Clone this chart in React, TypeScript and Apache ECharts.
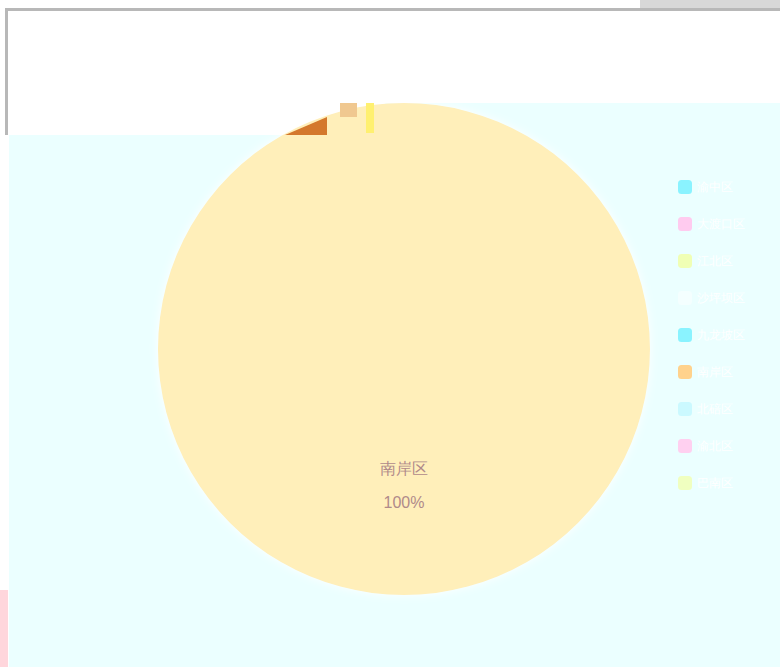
import React, { useEffect, useRef } from "react";
import * as echarts from "echarts";

const districts = ["渝中区", "大渡口区", "江北区", "沙坪坝区", "九龙坡区", "南岸区", "北碚区", "渝北区", "巴南区"];
const values = [0, 0, 0, 0, 0, 1, 0, 0, 0];
const sliceColors = ["#8af3ff", "#ffcbef", "#f0ffb5", "#f4ffff", "#8af3ff", "#ffefba", "#cbf9ff", "#ffd0f0", "#f0ffc0"];
const legendColors = ["#8af3ff", "#ffcbef", "#f0ffb5", "#f4ffff", "#8af3ff", "#ffd28c", "#cbf9ff", "#ffd0f0", "#f0ffc0"];

export default function App() {
  const ref = useRef<HTMLDivElement>(null);
  useEffect(() => {
    if (!ref.current) return;
    const chart = echarts.init(ref.current, null, { renderer: "svg" });
    const cyan = "#ebffff";
    chart.setOption({
      animation: false,
      backgroundColor: "#ffffff",
      graphic: [
        { type: "rect", z: -10, shape: { x: 9, y: 135, width: 771, height: 532 }, style: { fill: cyan } },
        { type: "rect", z: -10, shape: { x: 385, y: 103, width: 395, height: 32 }, style: { fill: cyan } },
        { type: "rect", z: -10, shape: { x: 5, y: 8, width: 775, height: 3 }, style: { fill: "#b8b8b8" } },
        { type: "rect", z: -10, shape: { x: 5, y: 8, width: 3, height: 127 }, style: { fill: "#b8b8b8" } },
        { type: "rect", z: -10, shape: { x: 640, y: 0, width: 140, height: 8 }, style: { fill: "#d8d8d8" } },
        { type: "rect", z: -10, shape: { x: 0, y: 590, width: 8, height: 77 }, style: { fill: "#ffd6dc" } },
        { type: "polygon", z: 100, shape: { points: [[285, 135], [327, 117], [327, 135]] }, style: { fill: "#d4782c" } },
        { type: "rect", z: 100, shape: { x: 340, y: 103, width: 17, height: 14 }, style: { fill: "#f0c890" } },
        { type: "rect", z: 100, shape: { x: 366, y: 103, width: 8, height: 30 }, style: { fill: "#fff070" } },
      ],
      legend: {
        orient: "vertical",
        left: 673,
        top: 175,
        itemWidth: 14,
        itemHeight: 14,
        itemGap: 23,
        textStyle: { color: "#ffffff", fontSize: 12 },
        data: districts.map((name, i) => ({ name, itemStyle: { color: legendColors[i] } })),
      },
      series: [
        {
          type: "pie",
          center: [404, 349],
          radius: [0, 246],
          startAngle: 90,
          avoidLabelOverlap: false,
          labelLine: { show: false },
          data: districts.map((name, i) => ({
            name,
            value: values[i],
            itemStyle: {
              color: sliceColors[i],
              shadowColor: values[i] > 0 ? "rgba(255,255,255,1)" : "transparent",
              shadowBlur: values[i] > 0 ? 10 : 0,
            },
            label: {
              show: values[i] > 0,
              position: "inside",
              formatter: "{b}\n{d}%",
              color: "#b08a8a",
              fontSize: 16,
              lineHeight: 34,
              offset: [0, 10],
            },
          })),
        },
      ],
    });
    return () => chart.dispose();
  }, []);
  return <div ref={ref} style={{ position: "fixed", left: 0, top: 0, width: 780, height: 667 }} />;
}
